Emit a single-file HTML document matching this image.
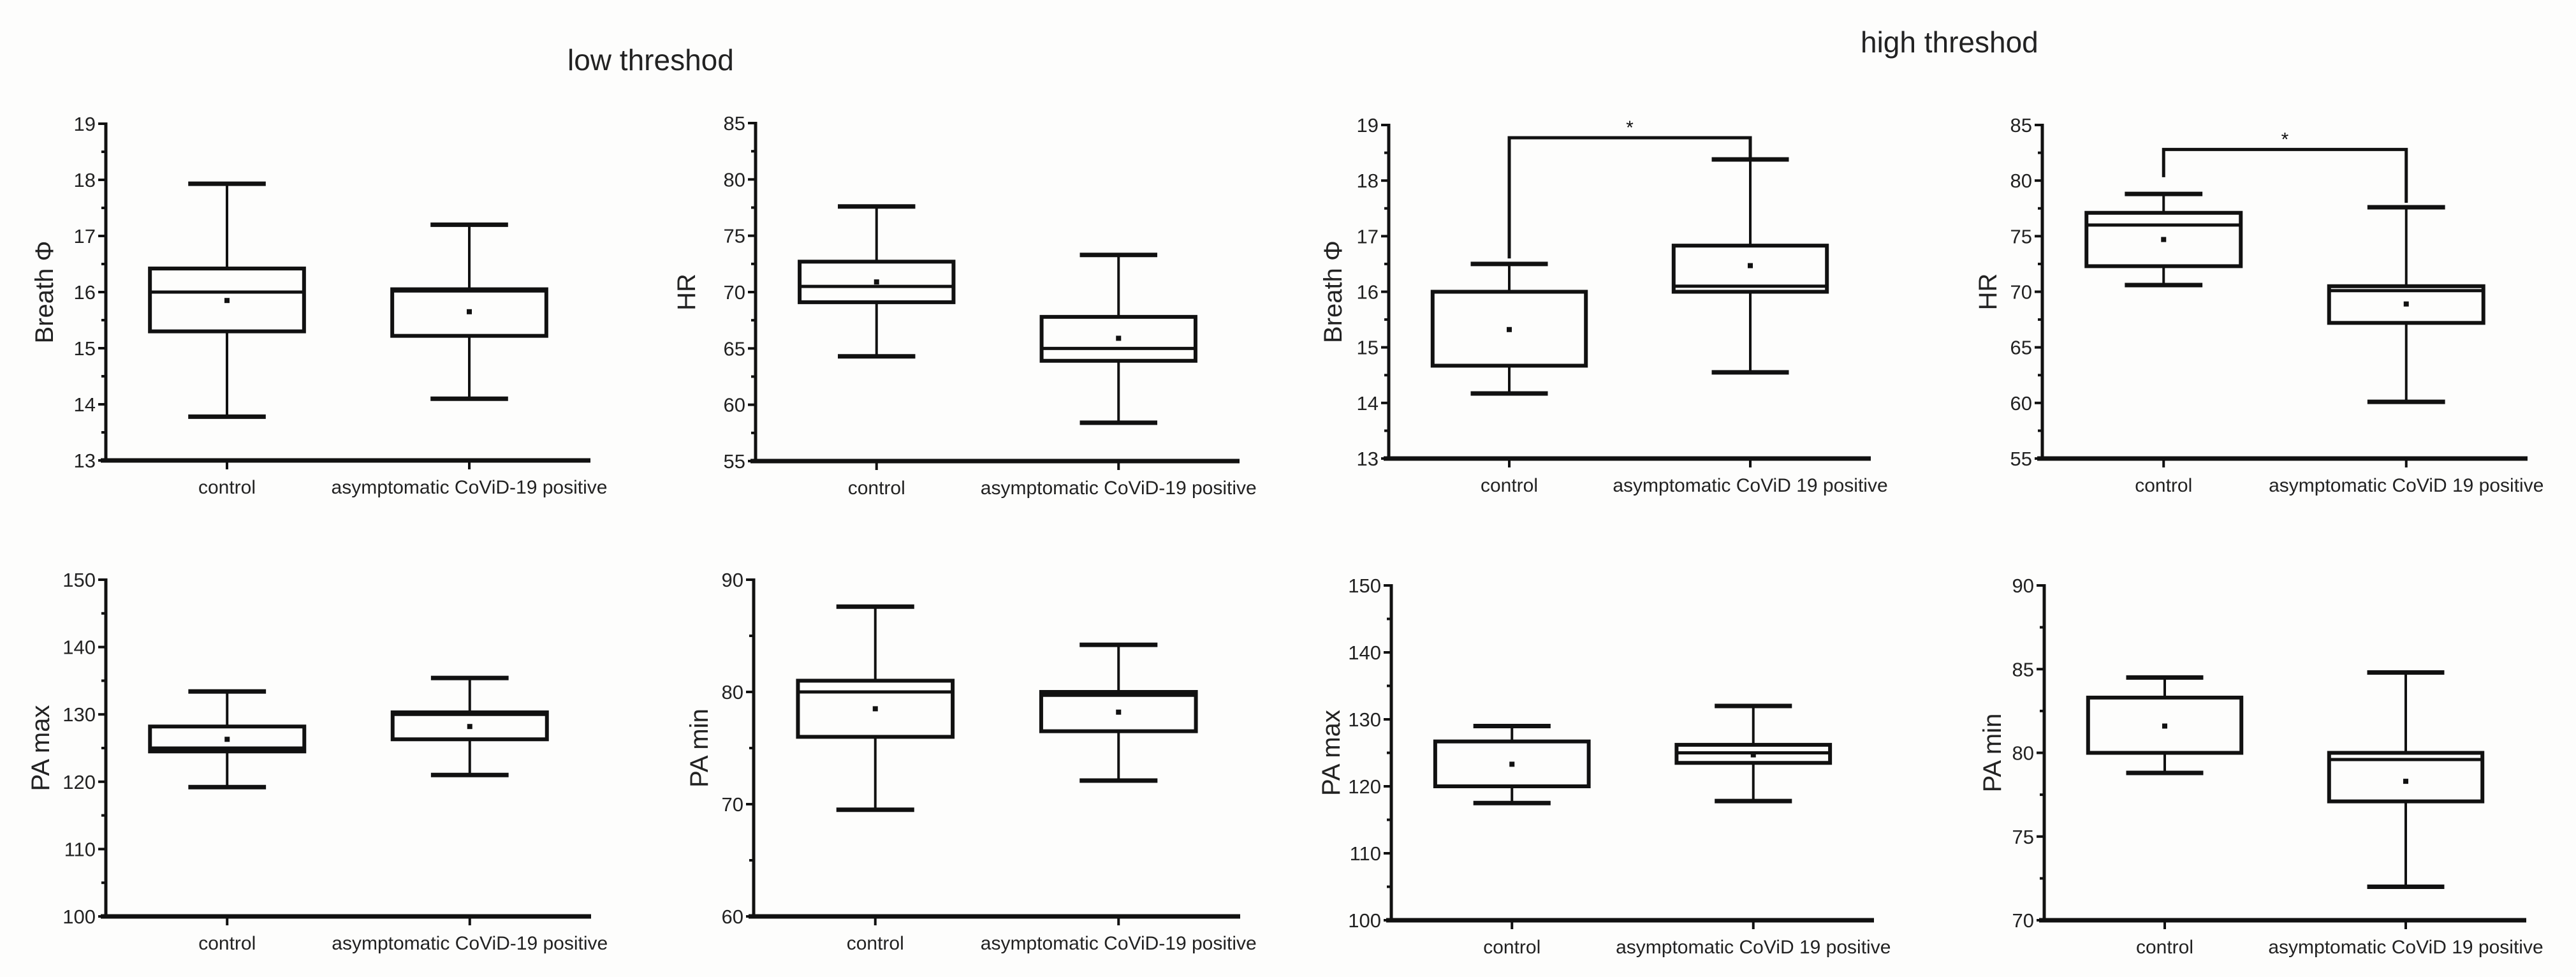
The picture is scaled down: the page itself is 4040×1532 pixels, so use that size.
<!DOCTYPE html>
<html><head><meta charset="utf-8"><style>
html,body{margin:0;padding:0;background:#fdfdfc;}
svg{display:block;font-family:"Liberation Sans",sans-serif;}
</style></head><body>
<svg id="fig" width="4040" height="1532" viewBox="0 0 4040 1532" xmlns="http://www.w3.org/2000/svg">
<rect x="0" y="0" width="4040" height="1532" fill="#fdfdfc"/>
<text x="890" y="110" font-size="46" fill="#222">low threshod</text>
<text x="2918" y="82" font-size="46" fill="#222">high threshod</text>
</svg>
<script>
// categories
const categories = ["control", "asymptomatic CoViD-19 positive"];
const categoriesHigh = ["control", "asymptomatic CoViD 19 positive"];
// stats per panel: [min, q1, median, q3, max, mean] for control and positive
const breathLowControl = [13.78, 15.3, 16.0, 16.42, 17.93, 15.85];
const breathLowPositive = [14.1, 15.22, 16.02, 16.05, 17.2, 15.65];
const hrLowControl = [64.3, 69.1, 70.5, 72.7, 77.6, 70.9];
const hrLowPositive = [58.4, 63.9, 65.0, 67.8, 73.3, 65.9];
const breathHighControl = [14.17, 14.67, 16.0, 16.0, 16.5, 15.32];
const breathHighPositive = [14.55, 16.0, 16.1, 16.83, 18.38, 16.47];
const hrHighControl = [70.6, 72.3, 76.0, 77.1, 78.8, 74.7];
const hrHighPositive = [60.1, 67.2, 70.1, 70.5, 77.6, 68.9];
const paMaxLowControl = [119.2, 124.5, 125.0, 128.2, 133.4, 126.3];
const paMaxLowPositive = [121.0, 126.3, 130.0, 130.3, 135.4, 128.2];
const paMinLowControl = [69.5, 76.0, 80.0, 81.0, 87.6, 78.5];
const paMinLowPositive = [72.1, 76.5, 79.7, 80.0, 84.2, 78.2];
const paMaxHighControl = [117.5, 120.0, 120.0, 126.7, 129.0, 123.3];
const paMaxHighPositive = [117.8, 123.5, 125.0, 126.2, 132.0, 124.7];
const paMinHighControl = [78.8, 80.0, 83.3, 83.3, 84.5, 81.6];
const paMinHighPositive = [72.0, 77.1, 79.6, 80.0, 84.8, 78.3];
// y axis ranges [min, max, step]
const breathRange = [13, 19, 1];
const hrRange = [55, 85, 5];
const paMaxRange = [100, 150, 10];
const paMinLowRange = [60, 90, 10];
const paMinHighRange = [70, 90, 5];
// significance brackets: [bracketValue, leftLegEnd, rightLegEnd]
const breathHighBracket = [18.77, 16.6, 18.4];
const hrHighBracket = [82.8, 80.3, 78.0];

const NS = "http://www.w3.org/2000/svg";
const svg = document.getElementById("fig");
function mk(tag, attrs, parent) {
  const e = document.createElementNS(NS, tag);
  for (const k in attrs) e.setAttribute(k, attrs[k]);
  (parent || svg).appendChild(e);
  return e;
}

const panels = [
  {id:"breath-low", x0:166, x1:926, yT:194, yB:722, range:breathRange, label:"Breath \u03A6", lx:70, cats:categories, data:[breathLowControl, breathLowPositive]},
  {id:"hr-low", x0:1185, x1:1944, yT:193, yB:723, range:hrRange, label:"HR", lx:1077, cats:categories, data:[hrLowControl, hrLowPositive]},
  {id:"breath-high", x0:2178, x1:2934, yT:196, yB:719, range:breathRange, label:"Breath \u03A6", lx:2091, cats:categoriesHigh, data:[breathHighControl, breathHighPositive], bracket:breathHighBracket},
  {id:"hr-high", x0:3203, x1:3964, yT:196, yB:719, range:hrRange, label:"HR", lx:3118, cats:categoriesHigh, data:[hrHighControl, hrHighPositive], bracket:hrHighBracket},
  {id:"pamax-low", x0:166, x1:927, yT:909, yB:1437, range:paMaxRange, label:"PA max", lx:64, cats:categories, data:[paMaxLowControl, paMaxLowPositive]},
  {id:"pamin-low", x0:1182, x1:1945, yT:909, yB:1437, range:paMinLowRange, label:"PA min", lx:1097, cats:categories, data:[paMinLowControl, paMinLowPositive]},
  {id:"pamax-high", x0:2182, x1:2939, yT:918, yB:1443, range:paMaxRange, label:"PA max", lx:2088, cats:categoriesHigh, data:[paMaxHighControl, paMaxHighPositive]},
  {id:"pamin-high", x0:3206, x1:3962, yT:918, yB:1443, range:paMinHighRange, label:"PA min", lx:3125, cats:categoriesHigh, data:[paMinHighControl, paMinHighPositive]}
];

panels.forEach(p => {
  const g = mk("g", {});
  
  
  const [lo, hi, step] = p.range;
  const y = v => p.yB - (v - lo) / (hi - lo) * (p.yB - p.yT);
  const w = p.x1 - p.x0;
  const xc = i => p.x0 + w * (0.25 + 0.5 * i);
  const bh = w * 0.159, ch = w * 0.08;
  // y axis
  const ya = mk("line", {x1:p.x0, y1:p.yT - 2, x2:p.x0, y2:p.yB, stroke:"#111", "stroke-width":5}, g);
  
  
  const xa = mk("line", {x1:p.x0 - 8, y1:p.yB, x2:p.x1, y2:p.yB, stroke:"#111", "stroke-width":7}, g);
  
  
  for (let v = lo; v <= hi + 1e-9; v += step) {
    mk("line", {x1:p.x0 - 12, y1:y(v), x2:p.x0, y2:y(v), stroke:"#111", "stroke-width":4}, g);
    if (v + step / 2 < hi) mk("line", {x1:p.x0 - 7, y1:y(v + step / 2), x2:p.x0, y2:y(v + step / 2), stroke:"#111", "stroke-width":4}, g);
    const t = mk("text", {x:p.x0 - 16, y:y(v) + 11, "font-size":31, "text-anchor":"end", fill:"#222"}, g);
    t.textContent = String(v);
    
    
  }
  const yl = mk("text", {x:p.lx, y:(p.yT + p.yB) / 2, "font-size":40, "text-anchor":"middle", fill:"#222", transform:`rotate(-90 ${p.lx} ${(p.yT + p.yB) / 2})`, "dominant-baseline":"central"}, g);
  yl.textContent = p.label;
  
  
  p.cats.forEach((c, i) => {
    mk("line", {x1:xc(i), y1:p.yB, x2:xc(i), y2:p.yB + 14, stroke:"#111", "stroke-width":4}, g);
    const t = mk("text", {x:xc(i), y:p.yB + 52, "font-size":30, "text-anchor":"middle", fill:"#222"}, g);
    t.textContent = c;
    
    
  });
  p.data.forEach((d, i) => {
    const [mn, q1, md, q3, mx, mean] = d;
    const bg = mk("g", {}, g);
    
    
    const cx = xc(i);
    mk("line", {x1:cx, y1:y(mx), x2:cx, y2:y(q3), stroke:"#111", "stroke-width":4}, bg);
    mk("line", {x1:cx, y1:y(q1), x2:cx, y2:y(mn), stroke:"#111", "stroke-width":4}, bg);
    mk("line", {x1:cx - ch, y1:y(mx), x2:cx + ch, y2:y(mx), stroke:"#111", "stroke-width":7}, bg);
    mk("line", {x1:cx - ch, y1:y(mn), x2:cx + ch, y2:y(mn), stroke:"#111", "stroke-width":7}, bg);
    mk("rect", {x:cx - bh, y:y(q3), width:2 * bh, height:Math.max(1, y(q1) - y(q3)), fill:"none", stroke:"#111", "stroke-width":6}, bg);
    mk("line", {x1:cx - bh, y1:y(md), x2:cx + bh, y2:y(md), stroke:"#111", "stroke-width":5}, bg);
    const m = mk("rect", {x:cx - 4, y:y(mean) - 4, width:8, height:8, fill:"#111"}, bg);
    
    
  });
  if (p.bracket) {
    const [bv, l, r] = p.bracket;
    const br = mk("polyline", {points:`${xc(0)},${y(l)} ${xc(0)},${y(bv)} ${xc(1)},${y(bv)} ${xc(1)},${y(r)}`, fill:"none", stroke:"#111", "stroke-width":5}, g);
    
    
    const st = mk("text", {x:(xc(0) + xc(1)) / 2, y:y(bv) - 6, "font-size":30, "text-anchor":"middle", fill:"#111"}, g);
    st.textContent = "*";
    
    
  }
});
</script>
</body></html>
